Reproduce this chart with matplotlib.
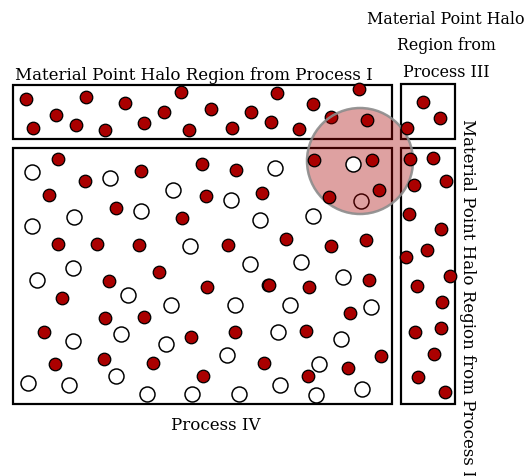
import matplotlib
matplotlib.use("Agg")
import matplotlib.pyplot as plt
from matplotlib.patches import Rectangle, Circle

W, H = 528, 477

# Regions (pixel-space diagram coordinates): x0, y0, x1, y1
box_names = ["Process I", "Process III", "Process IV", "Process II"]
box_x0 = [13, 401, 13, 401]
box_y0 = [86, 85, 149, 149]
box_x1 = [392, 455, 392, 455]
box_y1 = [140, 140, 405, 405]

# Halo circle
halo_cx, halo_cy, halo_r = 360, 162, 53

# Red (halo) material points, drawn above halo
red_x = [26, 56, 33, 76, 86, 105, 125, 144, 164, 181, 189, 211, 232, 251, 271, 277, 299, 313, 367, 359,
         423, 440, 407,
         58, 85, 49, 141, 202, 236, 206, 262, 116, 182, 58, 97, 139, 228, 159, 109, 207, 268, 62, 105, 144,
         44, 191, 235, 55, 104, 153, 203, 264, 314, 372, 379, 329, 286, 331, 366, 269, 309, 369, 350, 306,
         381, 348, 308,
         410, 433, 446, 414, 409, 441, 427, 406, 450, 417, 442, 415, 441, 434, 418, 445]
red_y = [100, 116, 129, 126, 98, 131, 104, 124, 113, 93, 131, 110, 129, 113, 123, 94, 130, 105, 121, 90,
         103, 119, 129,
         160, 182, 196, 172, 165, 171, 197, 194, 209, 219, 245, 245, 246, 246, 273, 282, 288, 286, 299, 319, 318,
         333, 338, 333, 365, 360, 364, 377, 364, 161, 161, 191, 198, 240, 247, 241, 286, 288, 281, 314, 332,
         357, 369, 377,
         160, 159, 182, 186, 215, 230, 251, 258, 277, 287, 303, 333, 329, 355, 378, 393]

# White (background) material points, drawn above halo
white_x = [32, 110, 173, 231, 141, 74, 32, 260, 190, 250, 73, 37, 275, 313,
           128, 171, 235, 121, 73, 166, 227, 116, 28, 69, 147, 192, 239,
           301, 343, 290, 371, 278, 341, 319, 280, 316, 362, 353]
white_y = [173, 179, 191, 201, 212, 218, 227, 221, 247, 265, 269, 281, 169, 217,
           296, 306, 306, 335, 342, 345, 356, 377, 384, 386, 395, 395, 395,
           263, 278, 306, 308, 333, 340, 365, 386, 396, 390, 165]

# Points covered by the halo
covered_red_x = [331]
covered_red_y = [118]
covered_white_x = [361]
covered_white_y = [202]

title_I = "Material Point Halo Region from Process I"
title_III = "Material Point Halo\nRegion from\nProcess III"
title_IV = "Process IV"
title_II = "Material Point Halo Region from Process II"

RED = "#aa0000"
FONT = "DejaVu Serif"

fig = plt.figure(figsize=(W / 100, H / 100), dpi=100)
ax = fig.add_axes([0, 0, 1, 1])
ax.set_xlim(0, W)
ax.set_ylim(H, 0)
ax.axis("off")

px = 72 / 100  # points per pixel


def ms(d):
    return (d * px) ** 2


for x0, y0, x1, y1 in zip(box_x0, box_y0, box_x1, box_y1):
    ax.add_patch(Rectangle((x0, y0), x1 - x0, y1 - y0, fill=False, ec="black",
                           lw=2.2 * px, zorder=2))

ax.scatter(covered_red_x, covered_red_y, s=ms(12.5), c=RED, edgecolors="black",
           linewidths=1.3 * px, zorder=3)
ax.scatter(covered_white_x, covered_white_y, s=ms(15), c="white", edgecolors="black",
           linewidths=1.5 * px, zorder=3)

ax.add_patch(Circle((halo_cx, halo_cy), halo_r, fc=(0.66, 0.0, 0.0, 0.37),
                    ec=(0.55, 0.55, 0.55, 0.9), lw=2.5 * px, zorder=4))

ax.scatter(red_x, red_y, s=ms(12.5), c=RED, edgecolors="black",
           linewidths=1.3 * px, zorder=5)
ax.scatter(white_x, white_y, s=ms(15), c="white", edgecolors="black",
           linewidths=1.5 * px, zorder=5)

fs = 12
ax.text(194, 80, title_I, ha="center", va="baseline", fontsize=fs, family=FONT)
ax.text(446, 46, title_III, ha="center", va="center", fontsize=11.4, family=FONT,
        linespacing=1.75)
ax.text(216, 430, title_IV, ha="center", va="baseline", fontsize=fs, family=FONT)
ax.text(467, 119, title_II, ha="center", va="top", rotation=270, fontsize=fs,
        family=FONT)

fig.savefig("out.png", dpi=100)
